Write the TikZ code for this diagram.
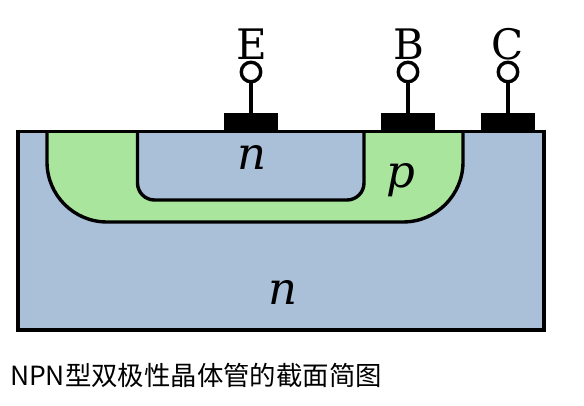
\documentclass[tikz,border=0pt]{standalone}
\usepackage{fontspec}
\setmainfont{DejaVu Serif}
\newfontfamily\cjkfont{Noto Sans CJK SC}
\usetikzlibrary{positioning}
\definecolor{nblue}{RGB}{170,191,216}
\definecolor{pgreen}{RGB}{169,229,156}
\begin{document}
\begin{tikzpicture}[x=1pt,y=-1pt,line width=3.4pt,
	contact/.style={draw=none,fill=black,minimum width=54pt,minimum height=18pt,inner sep=0pt,outer sep=0pt},
	pin/.style={circle,draw,fill=white,minimum size=19.5pt,inner sep=0pt,outer sep=0pt,line width=3.4pt},
	lead/.style={font=\fontsize{42}{42}\selectfont,inner sep=0pt,anchor=base},
	doping/.style={font=\fontsize{45}{45}\selectfont\itshape,inner sep=0pt,anchor=base}]
	\useasboundingbox (0,0) rectangle (584,406);
	
	\draw[fill=nblue] (18,131.5) rectangle (544,330);
	\draw[fill=pgreen] (47,131.5) -- (47,162) arc[start angle=180,end angle=90,radius=60] -- (403,222) arc[start angle=90,end angle=0,radius=60] -- (463,131.5);
	\draw[fill=nblue] (137.5,131.5) -- (137.5,183) arc[start angle=180,end angle=90,radius=17] -- (347,200) arc[start angle=90,end angle=0,radius=17] -- (364,131.5);
	\draw (18,131.5) rectangle (544,330);
	
	\node[contact] (ce) at (251,122) {};
	\node[contact] (cb) at (408,122) {};
	\node[contact] (cc) at (508,122) {};
	\node[pin] (pe) at (251,72) {};
	\node[pin] (pb) at (408,72) {};
	\node[pin] (pc) at (508,72) {};
	\draw (pe) -- (ce);
	\draw (pb) -- (cb);
	\draw (pc) -- (cc);
	
	\node[lead] (le) at (251.5,59.5) {E};
	\node[lead] (lb) at (408.5,59.5) {B};
	\node[lead] (lc) at (508,59.5) {C};
	\node[doping] (ne) at (252,170) {n};
	\node[doping] (pb2) at (401,188) {p};
	\node[doping] (nc) at (283,305) {n};
	\node[anchor=west,inner sep=0pt,font=\cjkfont\fontsize{26.4}{26.4}\selectfont] (cap) at (8.5,375.5) {NPN型双极性晶体管的截面简图};
\end{tikzpicture}
\end{document}
